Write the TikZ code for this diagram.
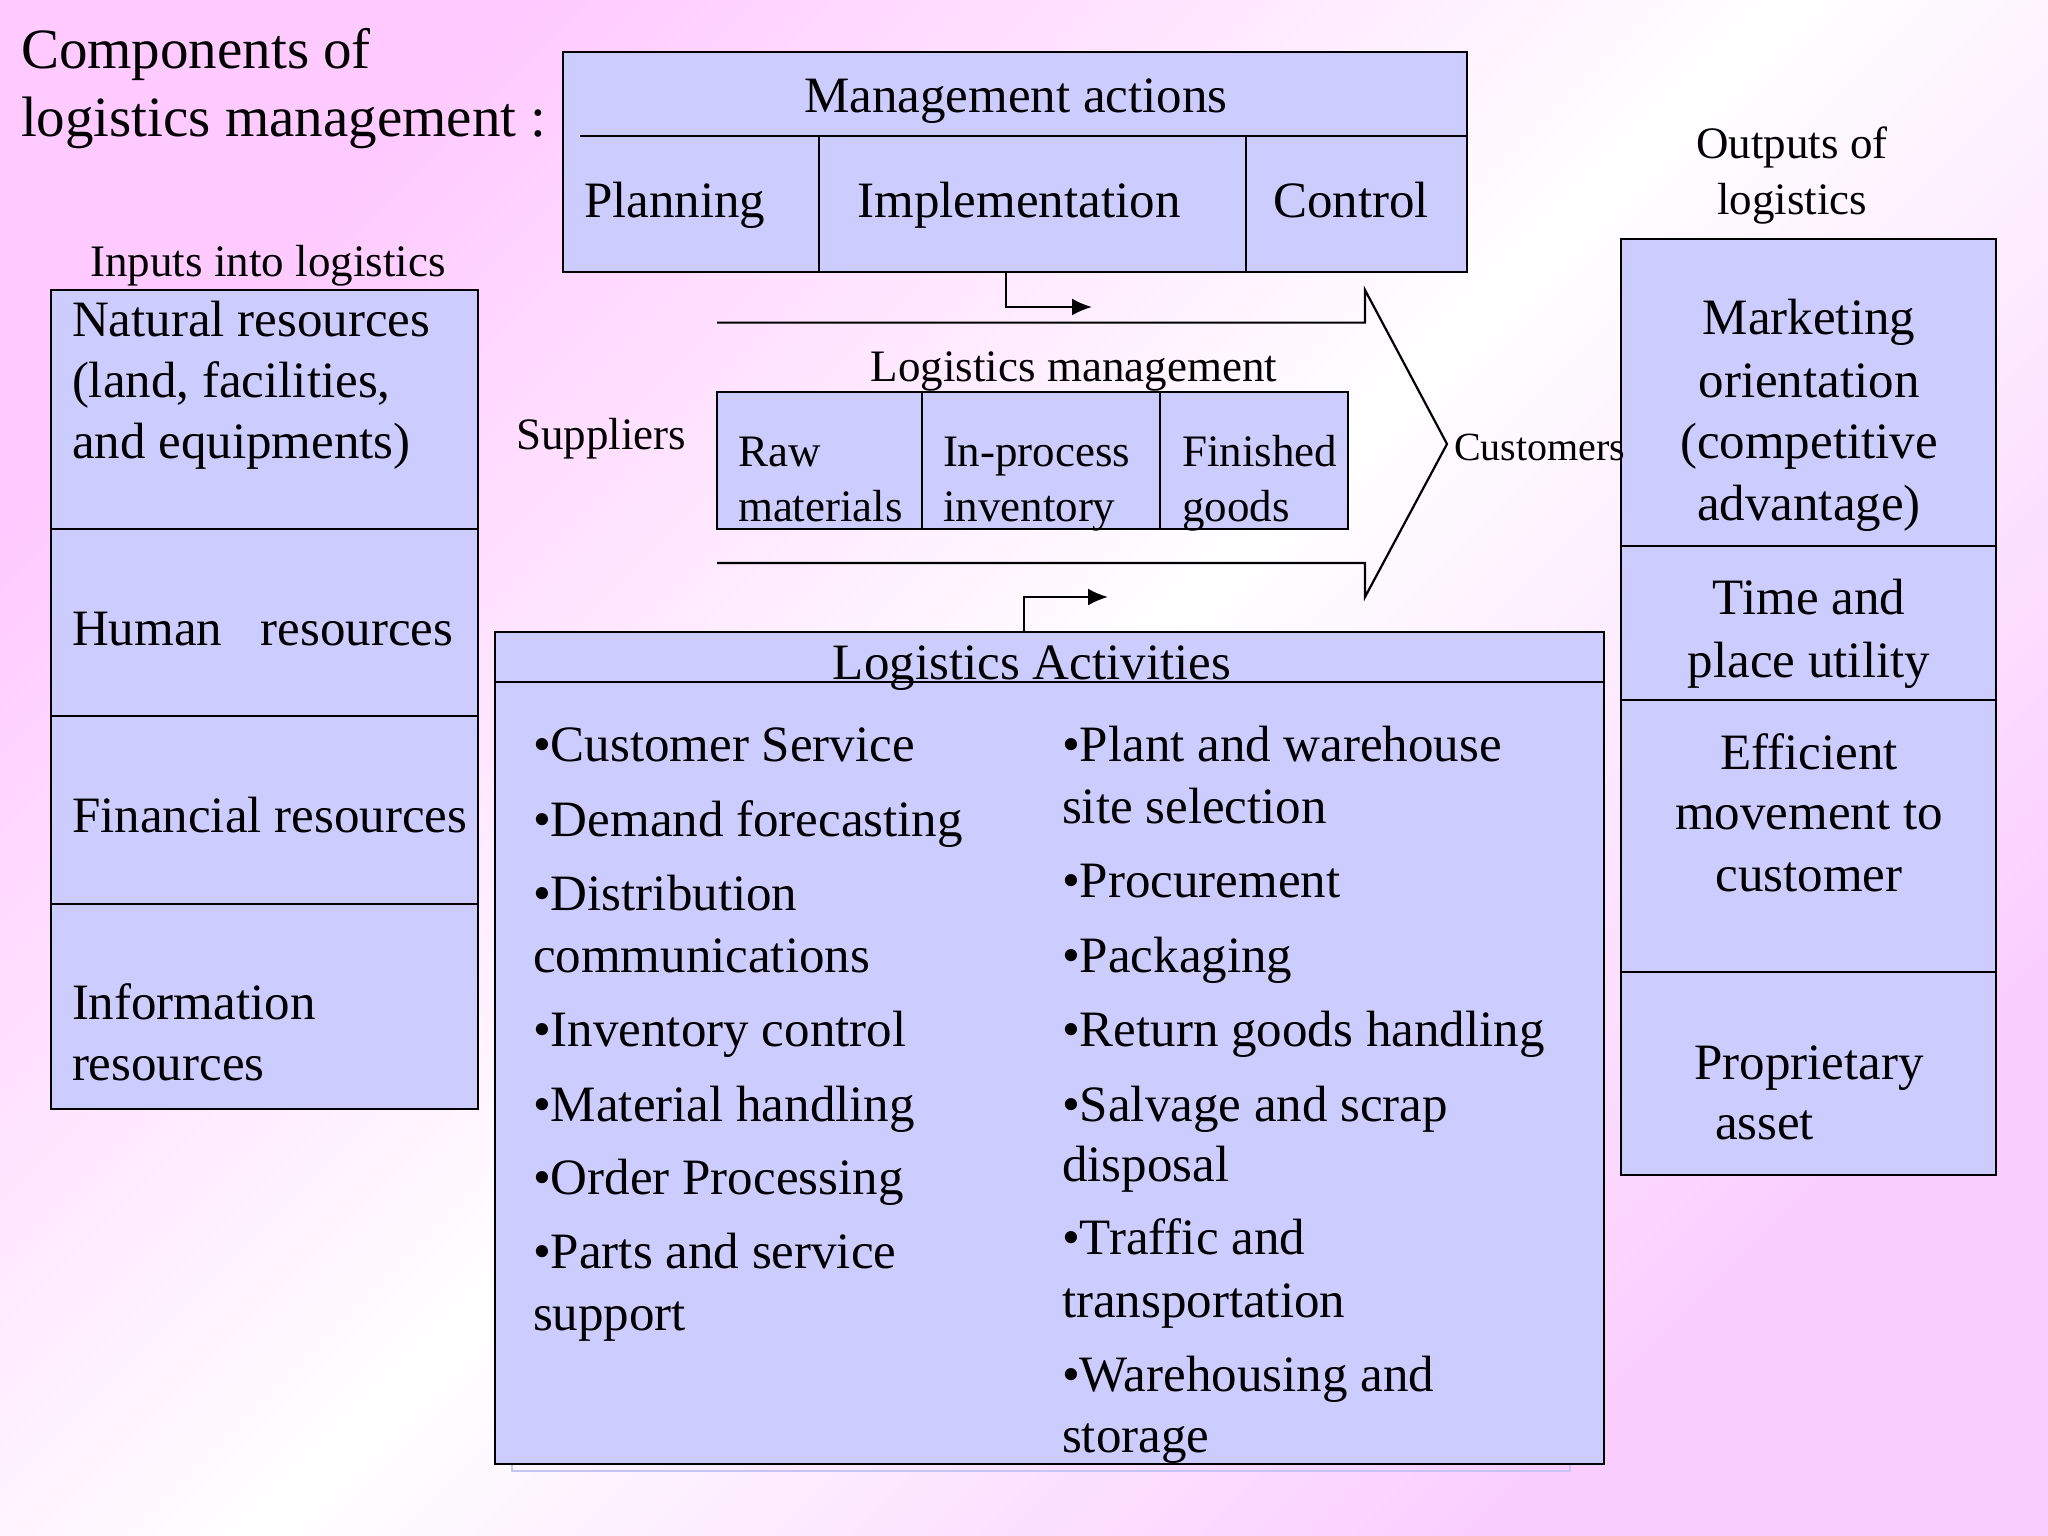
\documentclass[tikz,border=0pt]{standalone}
\usepackage{fontspec}
\setmainfont{Liberation Serif}
\usetikzlibrary{arrows.meta}
\definecolor{boxfill}{RGB}{204,204,255}
\definecolor{bgpink}{RGB}{255,202,255}
\definecolor{bgpinkB}{RGB}{250,205,255}
\definecolor{shadowc}{RGB}{196,196,245}
\newcommand\ftitle{\fontsize{57}{68}\selectfont}
\newcommand\fmain{\fontsize{51}{61}\selectfont}
\newcommand\flab{\fontsize{45}{54}\selectfont}
\newcommand\fcust{\fontsize{40}{48}\selectfont}
\begin{document}
\begin{tikzpicture}[x=1pt,y=-1pt,
  boxline/.style={draw=black,line width=2.2pt},
  box/.style={boxline,fill=boxfill,inner sep=0pt,outer sep=0pt,anchor=north west},
  tl/.style={inner sep=0pt,outer sep=0pt,anchor=base west},
  tc/.style={inner sep=0pt,outer sep=0pt,anchor=base},
  arr/.style={line width=2.2pt,-{Latex[length=20pt,width=17pt]}},
]
\useasboundingbox (0,0) rectangle (2048,1536);
\shade[shading=axis,top color=bgpink,bottom color=bgpinkB,middle color=white,shading angle=45] (0,0) rectangle (2048,1536);

% title
\node[tl,font=\ftitle] (t1) at (21,69) {Components of};
\node[tl,font=\ftitle] (t2) at (21,136) {logistics management :};

% management actions
\node[box,minimum width=904pt,minimum height=220pt] (mgmt) at (563,52) {};
\draw[boxline] (580,136) -- (1467,136);
\draw[boxline] (819,136) -- (819,272);
\draw[boxline] (1246,136) -- (1246,272);
\node[tc,font=\fmain] (ma) at (1016,113) {Management actions};
\node[tl,font=\fmain] (pl) at (584,217) {Planning};
\node[tc,font=\fmain] (im) at (1019,217) {Implementation};
\node[tc,font=\fmain] (co) at (1351,217) {Control};

% inputs
\node[tc,font=\flab] (inl) at (268,276) {Inputs into logistics};
\node[box,minimum width=427pt,minimum height=819pt] (inp) at (51,290) {};
\draw[boxline] (51,529) -- (478,529);
\draw[boxline] (51,716) -- (478,716);
\draw[boxline] (51,904) -- (478,904);
\node[tl,font=\fmain] (n1) at (72,336) {Natural resources};
\node[tl,font=\fmain] (n2) at (72,397) {(land, facilities,};
\node[tl,font=\fmain] (n3) at (72,458) {and equipments)};
\node[tl,font=\fmain] (hr) at (72,645) {Human\hspace{38.7pt}resources};
\node[tl,font=\fmain] (fr) at (72,832) {Financial resources};
\node[tl,font=\fmain] (ir1) at (72,1019) {Information};
\node[tl,font=\fmain] (ir2) at (72,1080) {resources};

% outputs
\node[tc,font=\flab] (ol1) at (1792,159) {Outputs of};
\node[tc,font=\flab] (ol2) at (1792,214) {logistics};
\node[box,minimum width=375pt,minimum height=936pt] (outp) at (1621,239) {};
\draw[boxline] (1621,546) -- (1996,546);
\draw[boxline] (1621,700) -- (1996,700);
\draw[boxline] (1621,972) -- (1996,972);
\node[tc,font=\fmain] (o1) at (1809,334) {Marketing};
\node[tc,font=\fmain] (o2) at (1809,397) {orientation};
\node[tc,font=\fmain] (o3) at (1809,458) {(competitive};
\node[tc,font=\fmain] (o4) at (1809,520) {advantage)};
\node[tc,font=\fmain] (o5) at (1809,614) {Time and};
\node[tc,font=\fmain] (o6) at (1809,677) {place utility};
\node[tc,font=\fmain] (o7) at (1809,769) {Efficient};
\node[tc,font=\fmain] (o8) at (1809,829) {movement to};
\node[tc,font=\fmain] (o9) at (1809,891) {customer};
\node[tc,font=\fmain] (o10) at (1809,1079) {Proprietary};
\node[tl,font=\fmain] (o11) at (1715,1139) {asset};

% big arrow
\draw[boxline,line join=miter] (717,322.6) -- (1365,322.6) -- (1365,290) -- (1447,444) -- (1365,597) -- (1365,563) -- (717,563);
\node[tc,font=\flab] (lm) at (1074,381) {Logistics management};
\node[box,minimum width=631pt,minimum height=137pt] (inv) at (717,392) {};
\draw[boxline] (922,392) -- (922,529);
\draw[boxline] (1160,392) -- (1160,529);
\node[tl,font=\flab] (r1) at (738,466) {Raw};
\node[tl,font=\flab] (r2) at (738,521) {materials};
\node[tl,font=\flab] (p1) at (943,466) {In-process};
\node[tl,font=\flab] (p2) at (943,521) {inventory};
\node[tl,font=\flab] (g1) at (1182,466) {Finished};
\node[tl,font=\flab] (g2) at (1182,521) {goods};
\node[tc,font=\flab] (sup) at (601,449) {Suppliers};
\node[tl,font=\fcust] (cus) at (1454,460) {Customers};

% activities
\draw[shadowc,line width=1.5pt] (512,1464) -- (512,1471) -- (1570,1471) -- (1570,1464);
\node[box,minimum width=1109pt,minimum height=832pt] (act) at (495,632) {};
\draw[boxline] (495,682) -- (1604,682);
\node[tc,font=\fmain] (at) at (1032,679) {Logistics Activities};
\node[tl,font=\fmain] (a1) at (533,761) {•Customer Service};
\node[tl,font=\fmain] (a2) at (533,836) {•Demand forecasting};
\node[tl,font=\fmain] (a3) at (533,910) {•Distribution};
\node[tl,font=\fmain] (a3b) at (533,972) {communications};
\node[tl,font=\fmain] (a4) at (533,1046) {•Inventory control};
\node[tl,font=\fmain] (a5) at (533,1121) {•Material handling};
\node[tl,font=\fmain] (a6) at (533,1194) {•Order Processing};
\node[tl,font=\fmain] (a7) at (533,1268) {•Parts and service};
\node[tl,font=\fmain] (a7b) at (533,1330) {support};
\node[tl,font=\fmain] (b1) at (1062,761) {•Plant and warehouse};
\node[tl,font=\fmain] (b1b) at (1062,823) {site selection};
\node[tl,font=\fmain] (b2) at (1062,897) {•Procurement};
\node[tl,font=\fmain] (b3) at (1062,972) {•Packaging};
\node[tl,font=\fmain] (b4) at (1062,1046) {•Return goods handling};
\node[tl,font=\fmain] (b5) at (1062,1121) {•Salvage and scrap};
\node[tl,font=\fmain] (b5b) at (1062,1181) {disposal};
\node[tl,font=\fmain] (b6) at (1062,1254) {•Traffic and};
\node[tl,font=\fmain] (b6b) at (1062,1317) {transportation};
\node[tl,font=\fmain] (b7) at (1062,1391) {•Warehousing and};
\node[tl,font=\fmain] (b7b) at (1062,1452) {storage};

% connectors
\coordinate (ms) at (1006,272);
\coordinate (me) at (1092,307);
\draw[arr] (ms) |- (me);
\coordinate (as) at (1024,632);
\coordinate (ae) at (1108,597);
\draw[arr] (as) |- (ae);
\end{tikzpicture}
\end{document}
